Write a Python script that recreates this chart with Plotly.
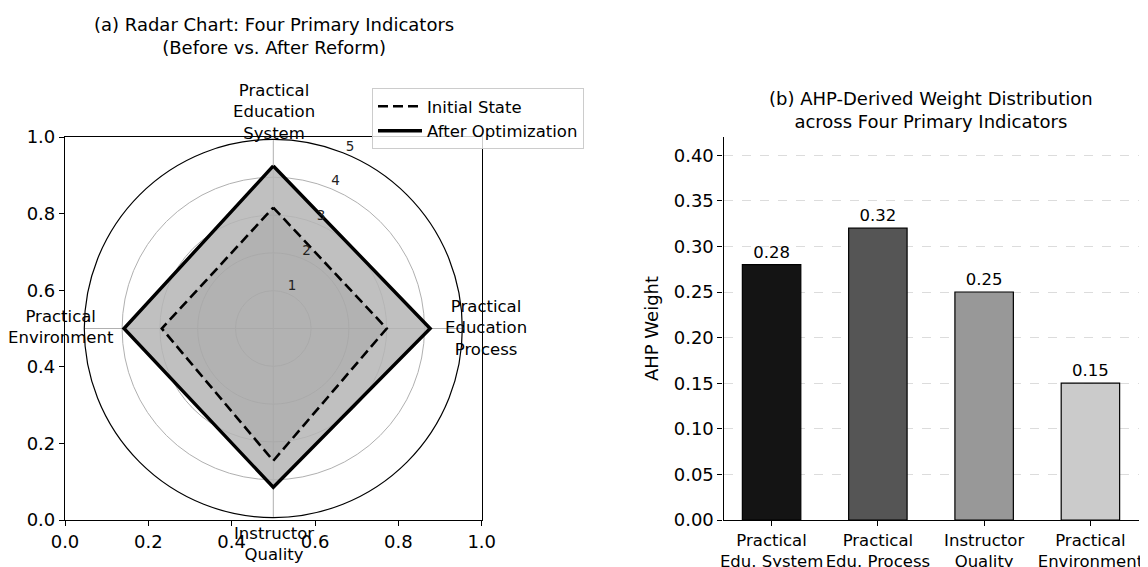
import plotly.graph_objects as go

# ---------------- data ----------------
radar_categories = ["Practical Education System", "Practical Education Process",
                    "Instructor Quality", "Practical Environment"]
radar_labels = ["Practical<br>Education<br>System", "Practical<br>Education<br>Process",
                "Instructor<br>Quality", "Practical<br>Environment"]
initial_state = [3.2, 3.0, 3.5, 2.95]
after_optimization = [4.3, 4.15, 4.2, 3.95]
radial_ticks = [1, 2, 3, 4, 5]
radial_label_angle = 22.5   # where the radial tick labels sit (degrees, clockwise from top)

bar_categories = ["Practical<br>Edu. System", "Practical<br>Edu. Process",
                  "Instructor<br>Quality", "Practical<br>Environment"]
ahp_weights = [0.28, 0.32, 0.25, 0.15]
bar_colors = ["#141414", "#555555", "#989898", "#cbcbcb"]
cart_ticks = [0.0, 0.2, 0.4, 0.6, 0.8, 1.0]
weight_ticks = [0.00, 0.05, 0.10, 0.15, 0.20, 0.25, 0.30, 0.35, 0.40]

FONT = "DejaVu Sans"
OFF = 8                      # default page margin of the html body
W, H = 1148 - OFF, 567 - OFF


def px(x):
    return (x - OFF) / W


def py(y):
    return 1 - (y - OFF) / H


def closed(v):
    return list(v) + [v[0]]


# evenly spaced spokes, one per category
angles = [i * 360 / len(radar_categories) for i in range(len(radar_categories))]

fig = go.Figure()

# ---------------- radar (polar) ----------------
theta_c = closed(angles)
fig.add_trace(go.Scatterpolar(r=closed(after_optimization), theta=theta_c, mode="lines",
                              fill="toself", fillcolor="rgba(181,181,181,0.85)",
                              line=dict(width=0), showlegend=False, hoverinfo="skip",
                              subplot="polar"))
fig.add_trace(go.Scatterpolar(r=closed(initial_state), theta=theta_c, mode="lines",
                              fill="toself", fillcolor="rgba(145,145,145,0.3)",
                              line=dict(width=0), showlegend=False, hoverinfo="skip",
                              subplot="polar"))
fig.add_trace(go.Scatterpolar(r=closed(initial_state), theta=theta_c, mode="lines",
                              name="Initial State", legendrank=1,
                              text=closed(radar_categories), hoverinfo="text+r+name",
                              line=dict(color="black", width=2.6, dash="10px,5px"),
                              subplot="polar"))
fig.add_trace(go.Scatterpolar(r=closed(after_optimization), theta=theta_c, mode="lines",
                              name="After Optimization", legendrank=2,
                              text=closed(radar_categories), hoverinfo="text+r+name",
                              line=dict(color="black", width=3.4),
                              subplot="polar"))
# radial tick labels
fig.add_trace(go.Scatterpolar(r=radial_ticks, theta=[radial_label_angle] * len(radial_ticks),
                              mode="text", text=[str(t) for t in radial_ticks],
                              textposition="top right",
                              textfont=dict(size=13.5, color="#222222", family=FONT),
                              showlegend=False, hoverinfo="skip", subplot="polar"))

# dummy trace so the cartesian frame behind the radar is drawn
fig.add_trace(go.Scatter(x=[None], y=[None], xaxis="x", yaxis="y", showlegend=False,
                         hoverinfo="skip"))

# ---------------- bars ----------------
fig.add_trace(go.Bar(x=bar_categories, y=ahp_weights, xaxis="x2", yaxis="y2",
                     width=0.55, marker=dict(color=bar_colors, line=dict(color="black", width=1.2)),
                     text=[f"{v:.2f}" for v in ahp_weights], textposition="outside",
                     textfont=dict(size=16.5, color="black", family=FONT),
                     cliponaxis=False, showlegend=False))

ydom = [py(520), py(137)]

common_axis = dict(showgrid=False, zeroline=False, showline=True, linecolor="black",
                   linewidth=1.2, ticks="outside", ticklen=5, tickcolor="black",
                   tickwidth=1.2, automargin=False, fixedrange=True)

fig.update_layout(
    width=W, height=H,
    margin=dict(l=0, r=0, t=0, b=0),
    paper_bgcolor="white", plot_bgcolor="rgba(0,0,0,0)",
    font=dict(family=FONT, color="black", size=16),
    xaxis=dict(common_axis, domain=[px(65), px(481.7)], range=[0, 1], tickvals=cart_ticks,
               ticktext=[f"{t:.1f}" for t in cart_ticks], mirror=True, anchor="y",
               tickfont=dict(size=18)),
    yaxis=dict(common_axis, domain=ydom, range=[0, 1], tickvals=cart_ticks,
               ticktext=[f"{t:.1f}" for t in cart_ticks], mirror=True, anchor="x",
               tickfont=dict(size=18)),
    polar=dict(
        domain=dict(x=[px(84.3), px(462.3)], y=[py(517.5), py(139.5)]),
        bgcolor="rgba(0,0,0,0)",
        angularaxis=dict(rotation=90, direction="clockwise", tickmode="array",
                         tickvals=angles, showticklabels=False, ticks="",
                         showgrid=True, gridcolor="#b0b0b0", gridwidth=1,
                         showline=True, linecolor="black", linewidth=1.2),
        radialaxis=dict(range=[0, 5], tickvals=radial_ticks, showline=False, ticks="",
                        showticklabels=False,
                        showgrid=True, gridcolor="#b0b0b0", gridwidth=1),
    ),
    xaxis2=dict(common_axis, domain=[px(723.5), px(1138.5)], range=[-0.4525, 3.4525],
                anchor="y2", tickangle=0, tickfont=dict(size=16.5)),
    yaxis2=dict(common_axis, domain=ydom, range=[0, 0.42], tickvals=weight_ticks,
                ticktext=[f"{t:.2f}" for t in weight_ticks], anchor="x2",
                tickfont=dict(size=18),
                title=dict(text="AHP Weight", font=dict(size=18), standoff=10)),
    legend=dict(x=px(372), y=py(88), xanchor="left", yanchor="top",
                bgcolor="rgba(255,255,255,0.8)", bordercolor="#cccccc", borderwidth=1,
                font=dict(size=16.5), tracegroupgap=0, itemwidth=44),
    showlegend=True,
)
fig.update_yaxes(showgrid=True, gridcolor="#dcdcdc", griddash="dash", gridwidth=1,
                 selector=dict(anchor="x2"))

annotations = [
    dict(text="(a) Radar Chart: Four Primary Indicators<br>(Before vs. After Reform)",
         x=px(273.5), y=py(35.5), font=dict(size=18)),
    dict(text="(b) AHP-Derived Weight Distribution<br>across Four Primary Indicators",
         x=px(931), y=py(110.3), font=dict(size=18)),
    dict(text=radar_labels[0], x=px(273.8), y=py(111.7), font=dict(size=16.5)),
    dict(text=radar_labels[1], x=px(485.8), y=py(327.5), font=dict(size=16.5)),
    dict(text=radar_labels[2], x=px(274), y=py(543.8), font=dict(size=16.5)),
    dict(text=radar_labels[3], x=px(60.8), y=py(326.7), font=dict(size=16.5)),
]
for a in annotations:
    a.update(xref="paper", yref="paper", xanchor="center", yanchor="middle",
             showarrow=False, align="center")
fig.update_layout(annotations=annotations)

fig.write_html("out.html")
